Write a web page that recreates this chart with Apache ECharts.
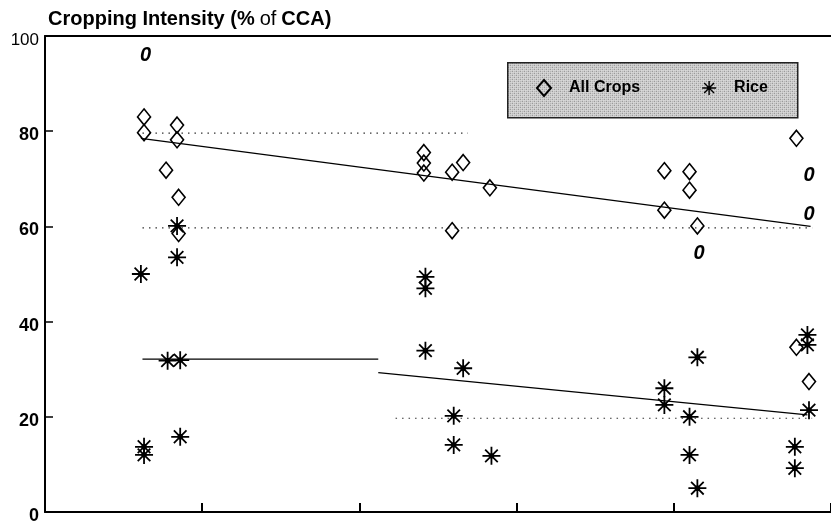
<!DOCTYPE html>
<html>
<head>
<meta charset="utf-8">
<script src="https://cdn.jsdelivr.net/npm/echarts@6/dist/echarts.min.js"></script>
<style>
  html, body { margin: 0; padding: 0; background: #fff; }
  #chart { width: 831px; height: 526px; }
</style>
</head>
<body>
<div id="chart"></div>
<script>
// Cropping intensity for all crops and for rice, by site group
const allCropsX = [0.63, 0.63, 0.84, 0.84, 0.77, 0.85, 0.85,
                   2.41, 2.41, 2.41, 2.59, 2.66, 2.83, 2.59,
                   3.94, 4.10, 4.10, 3.94, 4.15,
                   4.78, 4.78, 4.86];
const allCropsY = [83.0, 79.7, 81.3, 78.2, 71.8, 66.1, 58.5,
                   75.5, 73.3, 71.2, 71.4, 73.4, 68.1, 59.1,
                   71.7, 71.5, 67.6, 63.4, 60.1,
                   78.5, 34.6, 27.4];

const riceX = [0.61, 0.84, 0.84, 0.78, 0.86, 0.63, 0.63, 0.86,
               2.42, 2.42, 2.42, 2.66, 2.60, 2.60, 2.84,
               4.15, 3.94, 3.94, 4.10, 4.10, 4.15,
               4.85, 4.85, 4.86, 4.77, 4.77];
const riceY = [50.0, 60.1, 53.5, 31.8, 31.9, 13.7, 12.0, 15.8,
               49.4, 47.0, 33.9, 30.2, 20.2, 14.1, 11.8,
               32.5, 26.0, 22.5, 20.0, 12.0, 5.0,
               37.2, 35.1, 21.4, 13.7, 9.2];

// Italic "0" marks placed in the plot
const zeroMarkX = [0.64, 4.86, 4.86, 4.16];
const zeroMarkY = [96.0, 70.8, 62.6, 54.3];

// Trend and reference lines (start and end points)
const allCropsTrend = [[0.61, 78.5], [4.87, 60.0]];
const riceLevel = [[0.62, 32.1], [2.12, 32.1]];
const riceTrend = [[2.12, 29.3], [4.85, 20.4]];
const refLine80 = [[0.62, 79.6], [2.69, 79.6]];
const refLine60 = [[0.62, 59.7], [4.88, 59.7]];
const refLine20 = [[2.23, 19.7], [4.88, 19.7]];

const yTicks = [0, 20, 40, 60, 80, 100];

const zip = (xs, ys) => xs.map((x, i) => [x, ys[i]]);

// Eight-spoke asterisk with a filled centre
const asteriskPath = 'path://M45 0H55V100H45Z M0 45H100V55H0Z ' +
  'M18.5 11.5L88.5 81.5L81.5 88.5L11.5 18.5Z ' +
  'M81.5 11.5L88.5 18.5L18.5 88.5L11.5 81.5Z ' +
  'M42 35H58L65 42V58L58 65H42L35 58V42Z';

// Stippled fill for the legend panel
function stipple() {
  const c = document.createElement('canvas');
  c.width = 4; c.height = 4;
  const g = c.getContext('2d');
  g.fillStyle = '#dedede'; g.fillRect(0, 0, 4, 4);
  g.fillStyle = '#666'; g.fillRect(0, 0, 1, 1); g.fillRect(2, 2, 1, 1);
  g.fillStyle = '#9a9a9a'; g.fillRect(2, 0, 1, 1); g.fillRect(0, 2, 1, 1);
  return c;
}

const FONT = '"Liberation Sans", Arial, Helvetica, sans-serif';
const INK = '#000';

const lineSeries = (data, dotted) => ({
  type: 'line',
  data: data,
  symbol: 'none',
  silent: true,
  animation: false,
  lineStyle: dotted
    ? { color: '#333', width: 1.2, type: [1.5, 5] }
    : { color: INK, width: 1.3 },
  z: 1
});

const chart = echarts.init(document.getElementById('chart'), null, { renderer: 'canvas' });

chart.setOption({
  animation: false,
  backgroundColor: '#fff',
  title: {
    left: 43,
    top: 4,
    text: '{b|Cropping Intensity (%} {n|of} {b|CCA)}',
    textStyle: {
      rich: {
        b: { fontFamily: FONT, fontSize: 20, fontWeight: 'bold', color: INK },
        n: { fontFamily: FONT, fontSize: 20, fontWeight: 'normal', color: INK }
      }
    }
  },
  graphic: [{
    type: 'rect',
    left: 507,
    top: 62,
    shape: { width: 290, height: 55 },
    style: { fill: { image: stipple(), repeat: 'repeat' }, stroke: '#222', lineWidth: 1.5 },
    z: 0
  }],
  legend: {
    left: 531,
    top: 74,
    itemWidth: 14,
    itemHeight: 16,
    itemGap: 62,
    data: ['All Crops', 'Rice'],
    textStyle: {
      fontFamily: FONT, fontSize: 16, fontWeight: 'bold', color: INK,
      padding: [0, 0, 0, 13]
    },
    z: 5
  },
  grid: { left: 45, right: 0, top: 36, bottom: 14 },
  xAxis: [{
    type: 'value',
    min: 0, max: 5, interval: 1,
    axisLine: { show: true, lineStyle: { color: INK, width: 2 } },
    axisTick: { show: true, inside: true, length: 9, lineStyle: { color: INK, width: 2 } },
    axisLabel: { show: false },
    splitLine: { show: false }
  }, {
    type: 'value',
    position: 'top',
    min: 0, max: 5,
    axisLine: { show: true, lineStyle: { color: INK, width: 2 } },
    axisTick: { show: false },
    axisLabel: { show: false },
    splitLine: { show: false }
  }],
  yAxis: {
    type: 'value',
    min: yTicks[0], max: yTicks[yTicks.length - 1], interval: 20,
    axisLine: { show: true, lineStyle: { color: INK, width: 2 } },
    axisTick: { show: true, inside: true, length: 8, lineStyle: { color: INK, width: 1.5 } },
    axisLabel: {
      margin: 6,
      padding: [8, 0, 0, 0],
      formatter: v => v === 100 ? '{n|' + v + '}' : '{b|' + v + '}',
      rich: {
        b: { fontFamily: FONT, fontSize: 18, fontWeight: 'bold', color: INK },
        n: { fontFamily: FONT, fontSize: 17, fontWeight: 'normal', color: INK }
      }
    },
    splitLine: { show: false }
  },
  series: [
    lineSeries(allCropsTrend, false),
    lineSeries(riceLevel, false),
    lineSeries(riceTrend, false),
    lineSeries(refLine80, true),
    lineSeries(refLine60, true),
    lineSeries(refLine20, true),
    {
      name: 'All Crops',
      type: 'scatter',
      data: zip(allCropsX, allCropsY),
      symbol: 'diamond',
      symbolSize: [13, 16],
      itemStyle: { color: 'rgba(0,0,0,0)', borderColor: INK, borderWidth: 1.6, opacity: 1 },
      z: 3
    },
    {
      name: 'Rice',
      type: 'scatter',
      data: zip(riceX, riceY),
      symbol: asteriskPath,
      symbolSize: 18,
      itemStyle: { color: INK, opacity: 1 },
      z: 3
    },
    {
      name: 'marks',
      type: 'scatter',
      data: zip(zeroMarkX, zeroMarkY),
      symbolSize: 1,
      itemStyle: { color: 'rgba(0,0,0,0)', opacity: 1 },
      label: {
        show: true,
        position: 'inside',
        formatter: '0',
        fontFamily: FONT,
        fontSize: 20,
        fontStyle: 'italic',
        fontWeight: 'bold',
        color: '#000',
        textBorderWidth: 0
      },
      silent: true,
      z: 3
    }
  ]
});
</script>
</body>
</html>
